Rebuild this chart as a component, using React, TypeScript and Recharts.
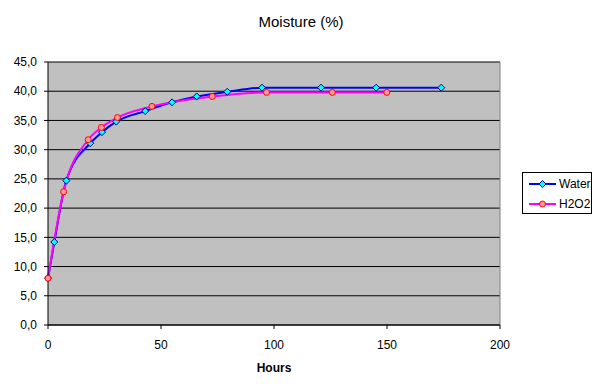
import { LineChart, Line, XAxis, YAxis, CartesianGrid, ReferenceLine } from 'recharts'

const waterHours = [0, 2.8, 8.1, 18.7, 23.9, 30.2, 43.0, 54.9, 65.8, 79.3, 94.7, 120.8, 145.2, 174.0]
const waterMoisture = [8.0, 14.2, 24.7, 31.1, 33.0, 34.8, 36.6, 38.1, 39.1, 39.9, 40.6, 40.6, 40.6, 40.6]
const h2o2Hours = [0, 6.9, 17.8, 23.6, 30.7, 46.0, 72.7, 96.7, 125.8, 149.9]
const h2o2Moisture = [8.0, 22.8, 31.7, 33.8, 35.5, 37.4, 39.1, 39.8, 39.8, 39.8]
const xTicks = [0, 50, 100, 150, 200]
const yTicks = [0, 5, 10, 15, 20, 25, 30, 35, 40, 45]

const waterData = waterHours.map((h, i) => ({ h, v: waterMoisture[i] }))
const h2o2Data = h2o2Hours.map((h, i) => ({ h, v: h2o2Moisture[i] }))

const FONT = '"Liberation Sans", Arial, sans-serif'

function Diamond(props: any) {
  const { cx, cy } = props
  if (cx == null || cy == null) return null
  const r = 3.5
  return (
    <polygon
      points={`${cx},${cy - r} ${cx + r},${cy} ${cx},${cy + r} ${cx - r},${cy}`}
      fill="#00FFFF"
      stroke="#000080"
      strokeWidth={1}
    />
  )
}

function Circle(props: any) {
  const { cx, cy } = props
  if (cx == null || cy == null) return null
  return <circle cx={cx} cy={cy} r={3} fill="#FF9999" stroke="#FF0000" strokeWidth={1} />
}

function LegendBox() {
  const row = (label: string, color: string, marker: any) => (
    <div style={{ display: 'flex', alignItems: 'center', height: 20 }}>
      <svg width={30} height={10} style={{ display: 'block' }}>
        <line x1={1} y1={5} x2={28} y2={5} stroke={color} strokeWidth={2} />
        {marker}
      </svg>
      <span style={{ fontSize: 12, marginLeft: 1 }}>{label}</span>
    </div>
  )
  return (
    <div
      style={{
        position: 'absolute',
        left: 522,
        top: 172,
        border: '1px solid #000',
        background: '#fff',
        width: 70,
        height: 42,
        padding: '1px 0 0 5px',
        boxSizing: 'border-box',
        fontFamily: FONT,
        color: '#000',
      }}
    >
      {row('Water', '#0000FF', <polygon points="14.5,1.5 18,5 14.5,8.5 11,5" fill="#00FFFF" stroke="#000080" />)}
      {row('H2O2', '#FF00FF', <circle cx={14.5} cy={5} r={3} fill="#FF9999" stroke="#FF0000" />)}
    </div>
  )
}

export default function App() {
  return (
    <div style={{ position: 'absolute', left: 0, top: 0, width: 602, height: 388, background: '#fff', fontFamily: FONT }}>
      <div
        style={{
          position: 'absolute',
          top: 13,
          left: 0,
          width: 602,
          textAlign: 'center',
          fontSize: 15,
          color: '#000',
        }}
      >
        Moisture (%)
      </div>
      <LineChart width={602} height={388} margin={{ top: 62, right: 102, bottom: 0, left: 0 }}>
        <CartesianGrid vertical={false} stroke="#000" strokeWidth={1} fill="#C0C0C0" fillOpacity={1} />
        <XAxis
          dataKey="h"
          type="number"
          domain={[0, 200]}
          ticks={xTicks}
          height={63}
          tickSize={4}
          tickMargin={11}
          stroke="#000"
          tick={{ fill: '#000', fontSize: 12, fontFamily: FONT }}
          label={{ value: 'Hours', position: 'insideBottom', offset: 16, fill: '#000', fontSize: 12, fontWeight: 'bold', fontFamily: FONT }}
          allowDuplicatedCategory={false}
        />
        <YAxis
          type="number"
          domain={[0, 45]}
          ticks={yTicks}
          width={48}
          tickSize={4}
          tickMargin={7}
          stroke="#000"
          tick={{ fill: '#000', fontSize: 12, fontFamily: FONT }}
          tickFormatter={(v: number) => v.toFixed(1).replace('.', ',')}
        />
        <ReferenceLine x={200} stroke="#808080" strokeWidth={1} />
        <Line
          data={waterData}
          dataKey="v"
          name="Water"
          type="monotone"
          stroke="#0000FF"
          strokeWidth={2}
          dot={<Diamond />}
          isAnimationActive={false}
        />
        <Line
          data={h2o2Data}
          dataKey="v"
          name="H2O2"
          type="monotone"
          stroke="#FF00FF"
          strokeWidth={2}
          dot={<Circle />}
          isAnimationActive={false}
        />
      </LineChart>
      <LegendBox />
    </div>
  )
}
